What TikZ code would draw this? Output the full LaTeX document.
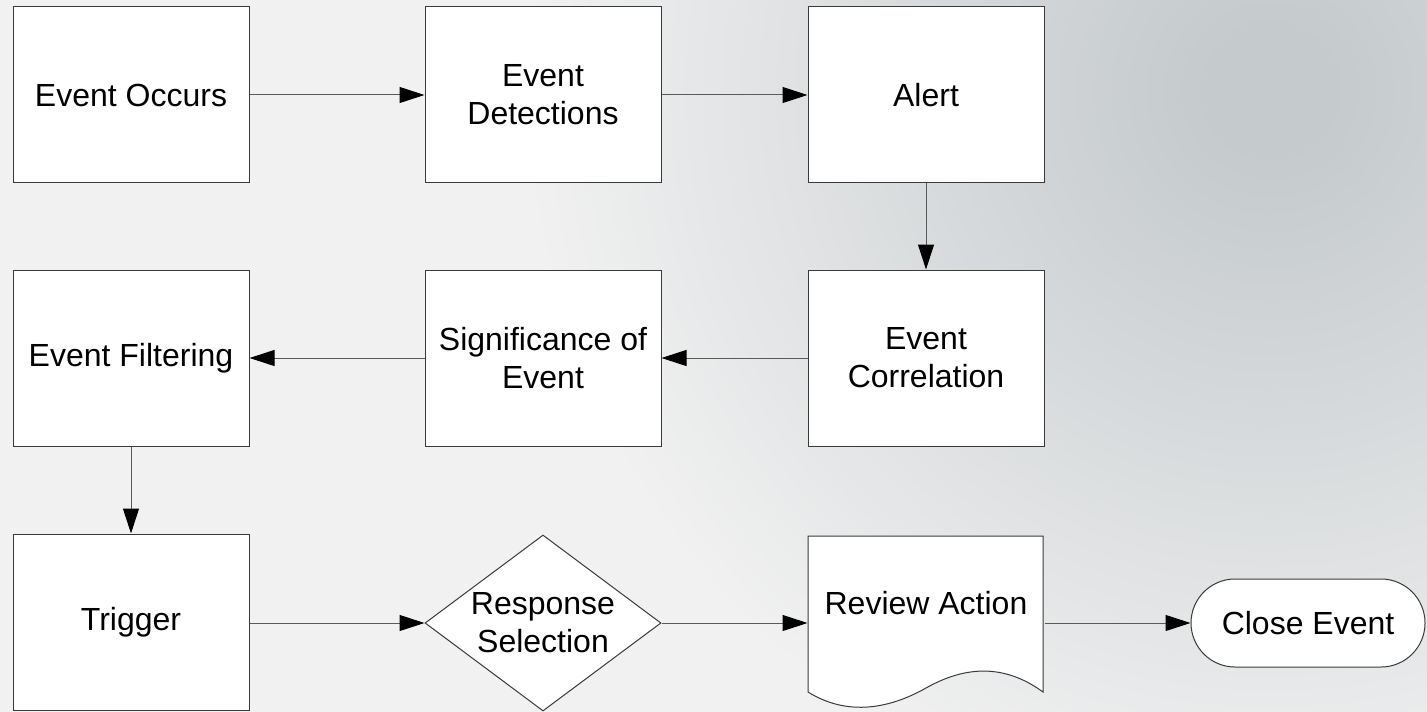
\documentclass[tikz,border=0pt]{standalone}
\usepackage{fontspec}
\setmainfont{Liberation Sans}
\usetikzlibrary{arrows.meta,shapes.geometric}

\definecolor{bglight}{HTML}{F1F1F1}
\definecolor{bgdark}{HTML}{C5CACD}
\definecolor{edge}{HTML}{3A3A3A}
\definecolor{wire}{HTML}{5A5A5A}

% soft wash: dark core fading to the page colour well inside the circle
\pgfdeclareradialshading{wash}{\pgfpoint{0bp}{0bp}}{%
  color(0bp)=(bgdark); color(1bp)=(bgdark); color(12bp)=(bglight); color(50bp)=(bglight)}

\tikzset{
  block/.style={draw=edge, fill=white, line width=0.5pt, minimum width=118pt,
    minimum height=88pt, inner sep=2pt, align=center,
    font=\fontsize{16}{19}\selectfont},
  decision/.style={block, shape=diamond, aspect=1.34, inner sep=0pt},
  terminal/.style={block, rounded corners=22pt, minimum width=117pt, minimum height=44pt},
  ghost/.style={block, draw=none, fill=none},
  flow/.style={draw=wire, line width=0.5pt, -{Triangle[length=12.5pt, width=8pt, color=black]}}
}

\begin{document}
\begin{tikzpicture}[x=0.5pt, y=-0.5pt]
  % page and background wash
  \useasboundingbox (0,0) rectangle (1427,711);
  \fill[bglight] (0,0) rectangle (1427,711);
  \begin{scope}
    \clip (0,0) rectangle (1427,711);
    \shade[shading=wash] (1270,90) circle (1560);
  \end{scope}

  % first row
  \node[block] (occ) at (131,95) {Event Occurs};
  \node[block] (det) at (543,95) {Event\\Detections};
  \node[block] (alr) at (926,95) {Alert};

  % second row
  \node[block] (flt) at (131,358) {Event Filtering};
  \node[block] (sig) at (543,358) {Significance of\\Event};
  \node[block] (cor) at (926,358) {Event\\Correlation};

  % third row
  \node[block] (trg) at (131,622) {Trigger};
  \node[decision] (rsp) at (543,623) {Response\\Selection};
  \node[ghost] (rev) at (926,623) {};
  \fill[white, draw=edge, line width=0.5pt]
    (808,536) -- (1043,536) -- (1043,692)
    .. controls (1010,668) and (972,662) .. (926,688)
    .. controls (880,714) and (840,712) .. (808,692) -- cycle;
  \node[font=\fontsize{16}{19}\selectfont] (revtxt) at (926,603) {Review Action};
  \node[terminal] (cls) at (1308,623) {Close Event};

  % connectors
  \draw[flow] (occ) -- (det);
  \draw[flow] (det) -- (alr);
  \draw[flow] (alr) -- (cor);
  \draw[flow] (cor) -- (sig);
  \draw[flow] (sig) -- (flt);
  \draw[flow] (flt) -- (trg);
  \draw[flow] (trg.east |- rsp) -- (rsp);
  \draw[flow] (rsp) -- (rev);
  \draw[flow] (rev) -- (cls);
\end{tikzpicture}
\end{document}
